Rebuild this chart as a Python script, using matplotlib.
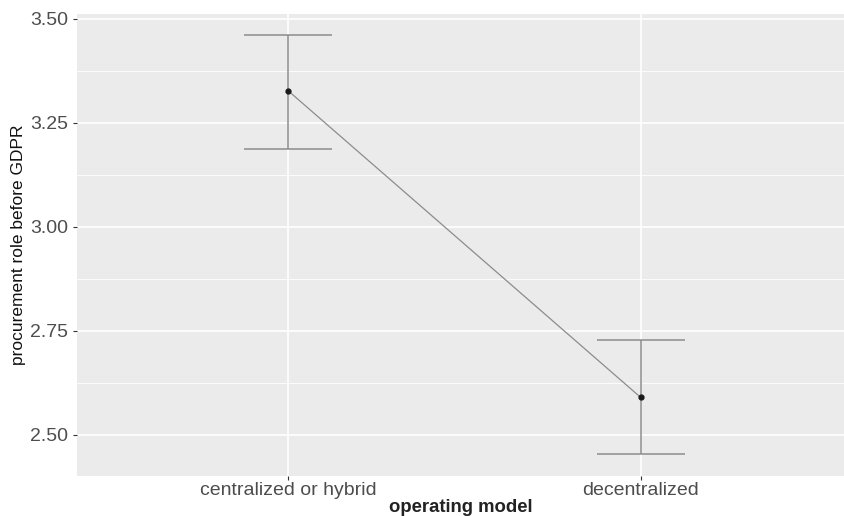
import numpy as np
import matplotlib.pyplot as plt

# values
categories = ["centralized or hybrid", "decentralized"]
means = [3.327, 2.590]
upper = [3.462, 2.728]
lower = [3.188, 2.453]
yticks = [2.50, 2.75, 3.00, 3.25, 3.50]
ytick_labels = ["2.50", "2.75", "3.00", "3.25", "3.50"]

plt.rcParams['font.family'] = ['Liberation Sans', 'DejaVu Sans']

fig = plt.figure(figsize=(8.45, 5.16), dpi=100)
ax = fig.add_axes([77 / 845, 40 / 516, (845 - 77) / 845, 462 / 516])
ax.set_facecolor("#EBEBEB")

x = np.arange(len(categories))
means = np.array(means)
err = [means - np.array(lower), np.array(upper) - means]

ax.plot(x, means, color="#8c8c8c", lw=0.9, zorder=3)
ax.errorbar(x, means, yerr=err, fmt="none", ecolor="#8c8c8c",
            elinewidth=1.1, capsize=32, capthick=1.1, zorder=3)
ax.plot(x, means, "o", color="#1a1a1a", ms=3.5, zorder=4)

ax.set_xlim(-0.6, 1.58)
ax.set_ylim(2.401, 3.512)
ax.set_xticks(x)
ax.set_xticklabels(categories)
ax.set_yticks(yticks)
ax.set_yticklabels(ytick_labels)
ax.set_yticks([2.625, 2.875, 3.125, 3.375], minor=True)

ax.grid(which="major", color="white", lw=1.2)
ax.grid(which="minor", axis="y", color="white", lw=0.6)
ax.set_axisbelow(True)
for s in ax.spines.values():
    s.set_visible(False)

ax.tick_params(axis="both", which="major", colors="#333333", length=3,
               width=0.8, labelsize=14, labelcolor="#4D4D4D")
ax.tick_params(axis="y", which="minor", length=0)
ax.tick_params(axis="x", pad=1)

ax.set_xlabel("operating model", fontsize=13.3, fontweight="bold",
              color="#222222", labelpad=0)
ax.set_ylabel("procurement role before GDPR", fontsize=12.5,
              family=['Liberation Sans Narrow', 'Liberation Sans'],
              color="#111111", labelpad=3)

fig.savefig("out.png", dpi=100)
